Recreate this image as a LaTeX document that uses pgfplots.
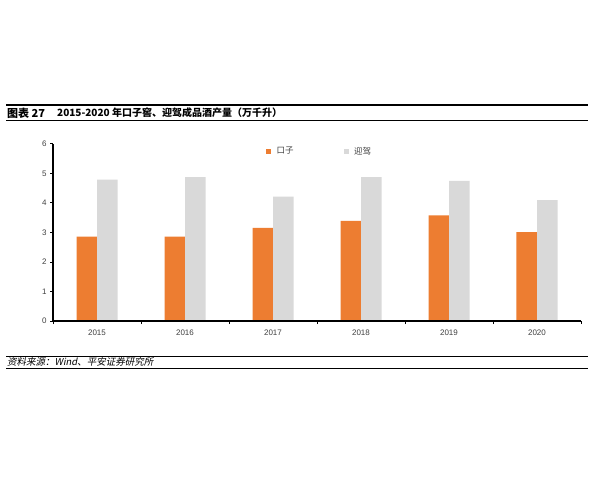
\documentclass[border=0pt]{standalone}
\usepackage{pgfplots}
\pgfplotsset{compat=1.18}
\usepackage{fontspec}
\setmainfont{Liberation Sans}
\newfontfamily\cjk{Noto Sans CJK SC}
\newfontfamily\cjkit[FakeSlant=0.2]{Noto Sans CJK SC}
\definecolor{kzorange}{HTML}{ED7D31}
\definecolor{yjgrey}{HTML}{D9D9D9}
\definecolor{ticktext}{HTML}{404040}
\begin{document}
\begin{tikzpicture}
\path[use as bounding box, fill=white] (0pt,0pt) rectangle (600pt,480pt);
% title block
\draw[line width=1.5pt] (6pt,375pt) -- (588pt,375pt);
\draw[line width=1.5pt] (6pt,359.5pt) -- (588pt,359.5pt);
\node[anchor=west, inner sep=0] at (7pt,367pt) {\cjk\bfseries\fontsize{11}{13}\selectfont 图表 27};
\node[anchor=west, inner sep=0] at (57pt,367pt) {\cjk\bfseries\fontsize{10}{12}\selectfont 2015-2020 年口子窖、迎驾成品酒产量（万千升）};
% source block
\draw[line width=1pt] (6pt,124pt) -- (588pt,124pt);
\draw[line width=1pt] (6pt,111.3pt) -- (588pt,111.3pt);
\node[anchor=west, inner sep=0] at (7pt,118pt) {\cjkit\fontsize{9.5}{11}\selectfont 资料来源：Wind、平安证券研究所};
\begin{axis}[
  at={(53pt,159pt)}, anchor=south west,
  scale only axis, width=528pt, height=177pt,
  ymin=0, ymax=6, xmin=-0.5, xmax=5.5,
  axis x line*=bottom, axis y line*=left,
  axis line style={-, line width=1.3pt, black},
  ytick={0,1,2,3,4,5,6},
  xtick={-0.5,0.5,1.5,2.5,3.5,4.5,5.5},
  xticklabels={2015,2016,2017,2018,2019,2020},
  x tick label as interval,
  tick align=outside,
  major tick length=3pt,
  tick style={black, line width=1pt},
  /pgf/number format/assume math mode=true,
  tick label style={font=\fontsize{8}{9}\selectfont, text=ticktext},
  xticklabel shift=2pt,
  axis on top,
  legend columns=2,
  legend style={draw=none, fill=none, inner sep=0pt,
    at={(rel axis cs:0.4034,0.959)}, anchor=west,
    font=\cjk\fontsize{8.5}{10}\selectfont, text=ticktext,
    /tikz/every even column/.append style={column sep=48pt}},
  legend cell align=left,
  legend image code/.code={\fill[#1] (0pt,-2.6pt) rectangle (5.2pt,2.6pt); \path (8.5pt,0pt);},
]
\addplot[ybar, bar width=20.5pt, bar shift=-10.25pt, fill=kzorange, draw=none]
  coordinates {(0,2.86) (1,2.86) (2,3.16) (3,3.39) (4,3.58) (5,3.01)};
\addlegendentry{口子}
\addplot[ybar, bar width=20.5pt, bar shift=10.25pt, fill=yjgrey, draw=none]
  coordinates {(0,4.79) (1,4.88) (2,4.22) (3,4.88) (4,4.75) (5,4.10)};
\addlegendentry{迎驾}
\end{axis}
\end{tikzpicture}
\end{document}
